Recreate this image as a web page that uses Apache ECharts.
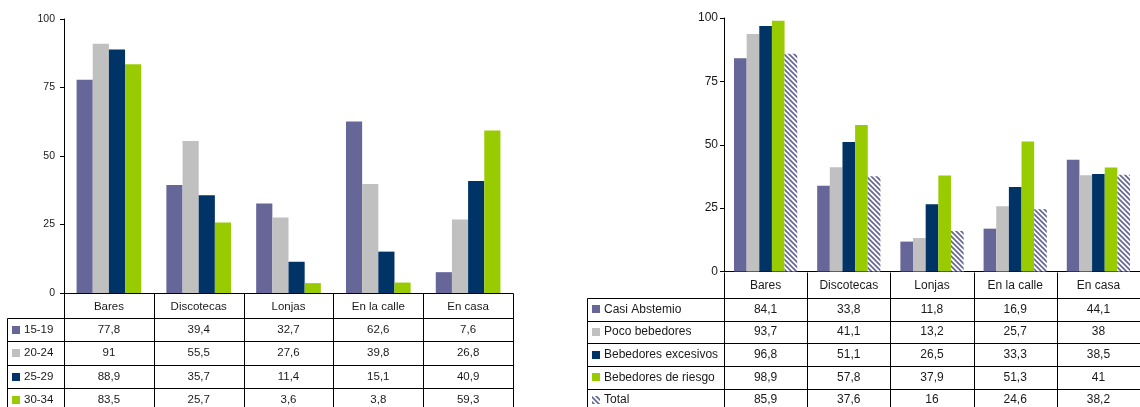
<!DOCTYPE html>
<html>
<head>
<meta charset="utf-8">
<script src="https://cdn.jsdelivr.net/npm/echarts@6/dist/echarts.min.js"></script>
<style>
  html, body { margin: 0; padding: 0; background: #fff; }
  #chart { width: 1140px; height: 407px; }
</style>
</head>
<body>
<div id="chart"></div>
<script>
// categories (shared by both panels)
var categories = ['Bares', 'Discotecas', 'Lonjas', 'En la calle', 'En casa'];
var yTicks = [0, 25, 50, 75, 100];

// left panel: age groups
var ageGroups = ['15-19', '20-24', '25-29', '30-34'];
var age1519 = [77.8, 39.4, 32.7, 62.6, 7.6];
var age2024 = [91, 55.5, 27.6, 39.8, 26.8];
var age2529 = [88.9, 35.7, 11.4, 15.1, 40.9];
var age3034 = [83.5, 25.7, 3.6, 3.8, 59.3];

// right panel: drinker type
var drinkerGroups = ['Casi Abstemio', 'Poco bebedores', 'Bebedores excesivos', 'Bebedores de riesgo', 'Total'];
var casiAbstemio = [84.1, 33.8, 11.8, 16.9, 44.1];
var pocoBebedores = [93.7, 41.1, 13.2, 25.7, 38];
var bebExcesivos = [96.8, 51.1, 26.5, 33.3, 38.5];
var bebRiesgo = [98.9, 57.8, 37.9, 51.3, 41];
var totalBeb = [85.9, 37.6, 16, 24.6, 38.2];

(function () {
  var FONT = '"Liberation Sans", Arial, sans-serif';
  var TXT = '#1a1a1a';

  // hatched fill for "Total"
  var hatch = (function () {
    var s = 5, c = document.createElement('canvas');
    c.width = s; c.height = s;
    var g = c.getContext('2d');
    g.fillStyle = '#fff'; g.fillRect(0, 0, s, s);
    g.strokeStyle = '#666699'; g.lineWidth = 1.7;
    for (var k = -1; k <= 1; k++) {
      g.beginPath();
      g.moveTo(k * s - 1, -1);
      g.lineTo(k * s + s + 1, s + 1);
      g.stroke();
    }
    return { image: c, repeat: 'repeat' };
  })();

  var leftColors = ['#666699', '#C0C0C0', '#003366', '#99CC00'];
  var rightColors = ['#666699', '#C0C0C0', '#003366', '#99CC00', hatch];
  var leftData = [age1519, age2024, age2529, age3034];
  var rightData = [casiAbstemio, pocoBebedores, bebExcesivos, bebRiesgo, totalBeb];

  var chart = echarts.init(document.getElementById('chart'), null, { renderer: 'canvas' });

  function yAxis(idx, fs, margin) {
    return {
      gridIndex: idx, type: 'value', min: yTicks[0], max: yTicks[yTicks.length - 1], interval: 25,
      axisLine: { show: true, lineStyle: { color: '#000', width: 1 } },
      axisTick: { show: true, length: 4, lineStyle: { color: '#000' } },
      axisLabel: { color: TXT, fontSize: fs, fontFamily: FONT, margin: margin },
      splitLine: { show: false }
    };
  }
  function xAxis(idx, fs, margin) {
    return {
      gridIndex: idx, type: 'category', data: categories,
      axisLine: { show: true, lineStyle: { color: '#000', width: 1 } },
      axisTick: { show: false },
      axisLabel: { interval: 0, color: TXT, fontSize: fs, fontFamily: FONT, margin: margin }
    };
  }

  var series = [];
  leftData.forEach(function (d, i) {
    series.push({
      name: ageGroups[i], type: 'bar', xAxisIndex: 0, yAxisIndex: 0, data: d,
      barGap: 0, barCategoryGap: '28%', itemStyle: { color: leftColors[i] }, silent: true
    });
  });
  rightData.forEach(function (d, i) {
    series.push({
      name: drinkerGroups[i], type: 'bar', xAxisIndex: 1, yAxisIndex: 1, data: d,
      barGap: 0, barCategoryGap: '24%', itemStyle: { color: rightColors[i] }, silent: true
    });
  });

  chart.setOption({
    animation: false,
    backgroundColor: '#fff',
    textStyle: { fontFamily: FONT },
    grid: [
      { left: 64, width: 449, top: 19, bottom: 114 },
      { left: 724, right: -13, top: 18, bottom: 135.5 }
    ],
    xAxis: [xAxis(0, 11.5, 8), xAxis(1, 12, 8)],
    yAxis: [yAxis(0, 10.5, 9), yAxis(1, 12, 6)],
    series: series
  });

  // data table under each panel
  function px(v) { return Math.round(v) + 0.5; }
  function fmt(v) { return String(v).replace('.', ','); }

  function table(axisIdx, names, data, colors, legendLeft, headH, rowH, fs) {
    var els = [];
    var c0 = chart.convertToPixel({ xAxisIndex: axisIdx }, categories[0]);
    var c1 = chart.convertToPixel({ xAxisIndex: axisIdx }, categories[1]);
    var band = c1 - c0;
    var y0 = chart.convertToPixel({ yAxisIndex: axisIdx }, 0);
    var left = c0 - band / 2;
    var right = left + band * categories.length;
    var top = y0 + headH;
    var bottom = 430;

    function line(x1, y1, x2, y2) {
      els.push({ type: 'line', silent: true,
        shape: { x1: x1, y1: y1, x2: x2, y2: y2 },
        style: { stroke: '#000', lineWidth: 1 } });
    }
    function text(str, x, y, align) {
      els.push({ type: 'text', silent: true, x: x, y: y,
        style: { text: str, fill: TXT, font: fs + 'px ' + FONT,
          align: align, textAlign: align, verticalAlign: 'middle', textVerticalAlign: 'middle' } });
    }

    // column dividers, header row included
    for (var k = 0; k <= categories.length; k++) line(px(left + k * band), px(y0), px(left + k * band), bottom);
    line(px(legendLeft), px(top), px(legendLeft), bottom);

    names.forEach(function (n, r) {
      var ry = top + r * rowH;
      line(px(legendLeft), px(ry), px(right), px(ry));
      var cy = ry + rowH / 2;
      els.push({ type: 'rect', silent: true,
        shape: { x: legendLeft + 5, y: Math.round(cy - 4), width: 8, height: 8 },
        style: { fill: colors[r], stroke: null } });
      text(n, legendLeft + 17, cy, 'left');
      data[r].forEach(function (v, ci) {
        text(fmt(v), c0 + ci * band, cy, 'center');
      });
    });
    line(px(legendLeft), px(top + names.length * rowH), px(right), px(top + names.length * rowH));
    return els;
  }

  var els = table(0, ageGroups, leftData, leftColors, 7, 25, 23.4, 11.5)
    .concat(table(1, drinkerGroups, rightData, rightColors, 587, 26.5, 22.7, 12));
  chart.setOption({ graphic: { elements: els } });
})();
</script>
</body>
</html>
